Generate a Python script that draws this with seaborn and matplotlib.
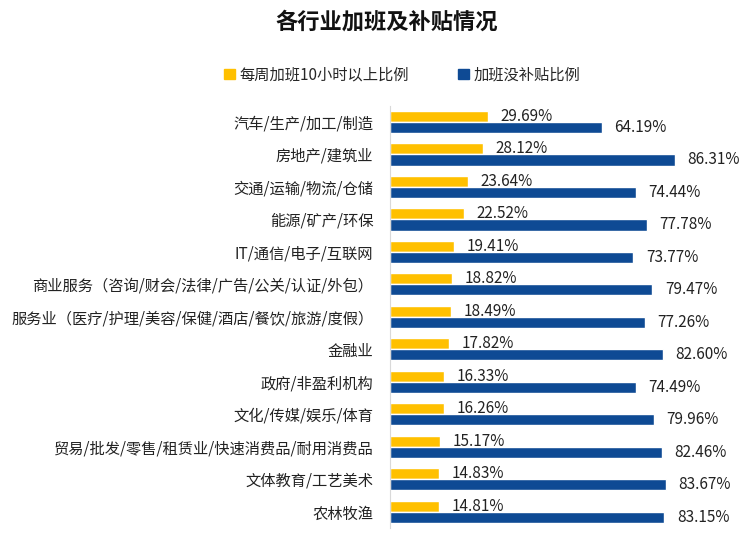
import pandas as pd
import matplotlib.pyplot as plt
import seaborn as sns
from matplotlib.patches import Patch

industries = ['汽车/生产/加工/制造', '房地产/建筑业', '交通/运输/物流/仓储', '能源/矿产/环保',
              'IT/通信/电子/互联网', '商业服务（咨询/财会/法律/广告/公关/认证/外包）',
              '服务业（医疗/护理/美容/保健/酒店/餐饮/旅游/度假）', '金融业', '政府/非盈利机构',
              '文化/传媒/娱乐/体育', '贸易/批发/零售/租赁业/快速消费品/耐用消费品',
              '文体教育/工艺美术', '农林牧渔']
overtime_10h = [29.69, 28.12, 23.64, 22.52, 19.41, 18.82, 18.49, 17.82, 16.33, 16.26, 15.17, 14.83, 14.81]
no_subsidy = [64.19, 86.31, 74.44, 77.78, 73.77, 79.47, 77.26, 82.60, 74.49, 79.96, 82.46, 83.67, 83.15]
series_names = ['每周加班10小时以上比例', '加班没补贴比例']
colors = ['#FFC000', '#0E4A94']

df = pd.concat([
    pd.DataFrame({'行业': industries, '比例': overtime_10h, '类别': series_names[0]}),
    pd.DataFrame({'行业': industries, '比例': no_subsidy, '类别': series_names[1]}),
])

sns.set_style('white')
plt.rcParams['font.family'] = ['Noto Sans CJK SC', 'DejaVu Sans']

fig = plt.figure(figsize=(7.5, 5.34), dpi=100)
ax = fig.add_axes([0.52, 0.011, 0.44, 0.791])

sns.barplot(data=df, y='行业', x='比例', hue='类别', orient='h', palette=colors,
            width=0.68, ax=ax, legend=False, saturation=1)

for container in ax.containers:
    ax.bar_label(container, labels=[f'{v:.2f}%' for v in container.datavalues],
                 padding=9, fontsize=11, color='#222222')

ax.set_xlim(0, 100)
ax.set_ylim(12.5, -0.5)
ax.set_xlabel('')
ax.set_ylabel('')
ax.set_xticks([])
ax.tick_params(axis='y', length=0, labelsize=11, pad=12, labelcolor='#222222')
for side in ['top', 'right', 'bottom']:
    ax.spines[side].set_visible(False)
ax.spines['left'].set_color('#D9D9D9')

fig.text(0.515, 0.958, '各行业加班及补贴情况', ha='center', va='center',
         fontsize=16, fontweight='bold', color='#111111')

handles = [Patch(color=c) for c in colors]
fig.legend(handles, series_names, loc='center', bbox_to_anchor=(0.536, 0.86), ncol=2,
           frameon=False, fontsize=11, handlelength=0.7, handleheight=0.7,
           handletextpad=0.3, columnspacing=3.2)

fig.savefig('out.png', dpi=100)
